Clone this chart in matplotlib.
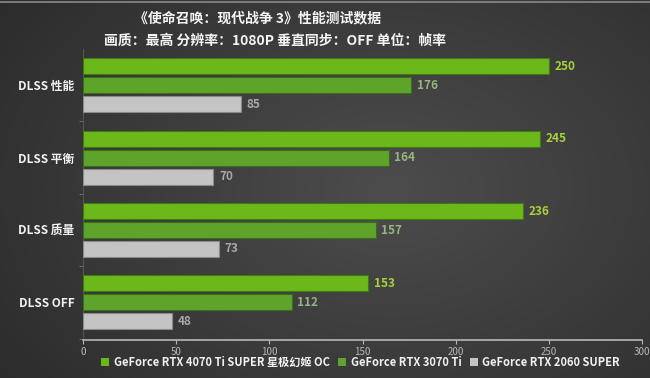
import numpy as np
import matplotlib
matplotlib.use("Agg")
import matplotlib.pyplot as plt
from matplotlib.patches import Patch

plt.rcParams['font.family'] = ['Noto Sans CJK SC', 'DejaVu Sans']

categories = ["DLSS 性能", "DLSS 平衡", "DLSS 质量", "DLSS OFF"]
series_names = ["GeForce RTX 4070 Ti SUPER 星极幻姬 OC", "GeForce RTX 3070 Ti", "GeForce RTX 2060 SUPER"]
fps_4070tis = [250, 245, 236, 153]
fps_3070ti = [176, 164, 157, 112]
fps_old = [85, 70, 73, 48]
x_ticks = [0, 50, 100, 150, 200, 250, 300]

title_line1 = "《使命召唤：现代战争 3》性能测试数据"
title_line2 = "画质：最高 分辨率：1080P 垂直同步：OFF 单位：帧率"

bar_colors = ["#6cb81a", "#5ea42a", "#c4c4c4"]
edge_colors = ["#3f7a12", "#3b6e1a", "#8a8a8a"]
label_colors = ["#a6d23a", "#98b482", "#a8a8a8"]

fig = plt.figure(figsize=(6.5, 3.78), dpi=100)

# dark radial backdrop
bg = fig.add_axes([0, 0, 1, 1])
yy, xx = np.mgrid[0:1:200j, 0:1:300j]
r = np.sqrt(((xx - 0.6) / 0.75) ** 2 + ((yy - 0.5) / 0.9) ** 2)
shade = np.clip(0.30 - 0.13 * r, 0.17, 0.30)
img = np.dstack([shade, shade, shade])
bg.imshow(img, extent=[0, 1, 0, 1], aspect="auto", origin="lower")
bg.axhline(0.996, color="#8a8a8a", lw=1.2)
bg.set_axis_off()

ax = fig.add_axes([0.1277, 0.1005, 0.86, 0.7695])
ax.set_facecolor("none")

y = np.arange(len(categories))
offset = 0.262
height = 0.22
series = [fps_4070tis, fps_3070ti, fps_old]
for k, vals in enumerate(series):
    pos = y + (k - 1) * offset
    ax.barh(pos, vals, height=height, color=bar_colors[k],
            edgecolor=edge_colors[k], linewidth=0.8, zorder=3)
    for p, v in zip(pos, vals):
        ax.text(v + 3, p, str(v), va="center", ha="left", fontsize=8.5,
                fontweight="bold", color=label_colors[k], zorder=4)

ax.set_xlim(0, 300)
ax.set_ylim(3.52, -0.5)
ax.set_xticks(x_ticks)
ax.set_xticklabels([str(t) for t in x_ticks])
ax.set_yticks(y)
ax.set_yticklabels(categories)
ax.set_yticks([0.5, 1.5, 2.5, 3.5], minor=True)

for s in ["top", "right"]:
    ax.spines[s].set_visible(False)
ax.spines["bottom"].set_color("#b8b8b8")
ax.spines["bottom"].set_linewidth(1.2)
ax.spines["left"].set_color("#555555")
ax.tick_params(axis="x", colors="#b8b8b8", labelsize=7, length=3, width=0.8, pad=2)
ax.tick_params(axis="y", which="major", length=0, labelsize=8.5,
               labelcolor="#f2f2f2", pad=6)
ax.tick_params(axis="y", which="minor", length=3, color="#777777")
for lbl in ax.get_yticklabels():
    lbl.set_fontweight("bold")

fig.text(0.397, 0.952, title_line1, ha="center", va="center", fontsize=10,
         fontweight="bold", color="#f4f4f4")
fig.text(0.423, 0.893, title_line2, ha="center", va="center", fontsize=10,
         fontweight="bold", color="#f4f4f4")

handles = [Patch(facecolor=c, edgecolor="none") for c in bar_colors]
leg = fig.legend(handles, series_names, loc="center", bbox_to_anchor=(0.555, 0.042),
                 ncol=3, frameon=False, fontsize=8, handlelength=0.7, handleheight=0.7,
                 handletextpad=0.4, columnspacing=0.8)
for t in leg.get_texts():
    t.set_color("#f0f0f0")
    t.set_fontweight("bold")

fig.savefig("out.png", dpi=100)
